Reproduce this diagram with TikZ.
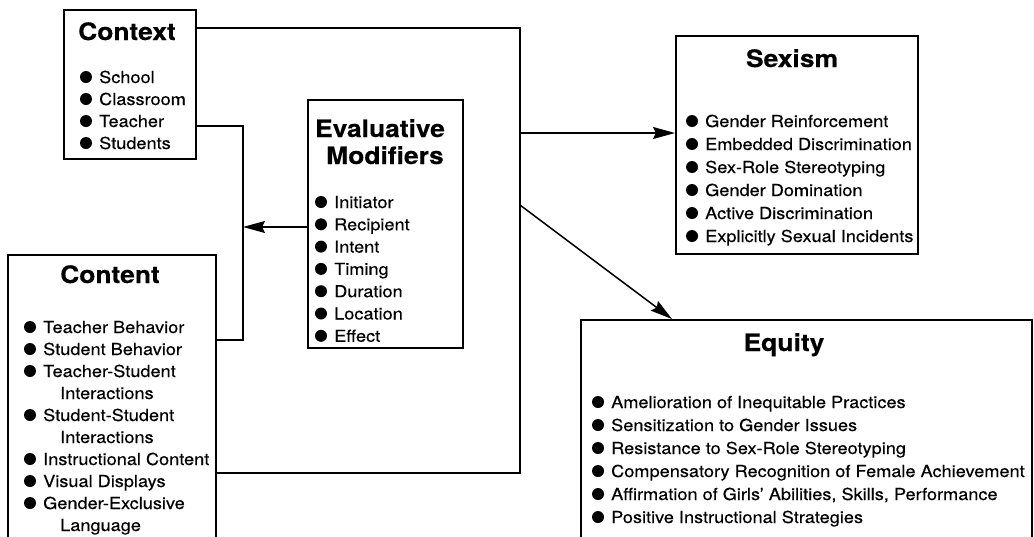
\documentclass[tikz,border=0pt]{standalone}
\usepackage{fontspec}
\setmainfont{TeX Gyre Heros}[FakeStretch=1.1,FakeBold=0.3]
\usetikzlibrary{arrows.meta}
\newcommand\bitem[4]{%
  \node[itm] (#1) at (#2,#3) {#4};
  \fill (#1.base west) ++(-13,-6) circle (6pt);
}
\begin{document}
\begin{tikzpicture}[x=1pt,y=-1pt,
  box/.style={draw, line width=1.9pt, rectangle, inner sep=0pt, anchor=north west},
  title/.style={font=\fontsize{24}{28}\selectfont\bfseries, inner sep=0pt, anchor=base},
  itm/.style={font=\fontsize{16.5}{20}\selectfont, inner sep=0pt, anchor=base west},
  conn/.style={line width=1.5pt},
  arr/.style={conn, -{Stealth[length=22pt,width=12pt,inset=3pt]}},
]
\clip (0,0) rectangle (1034,536);
\fill[white] (0,0) rectangle (1034,536);

% boxes
\node[box, minimum width=132pt, minimum height=149pt] (context) at (63,9) {};
\node[box, minimum width=208pt, minimum height=300pt] (content) at (7,254) {};
\node[box, minimum width=155pt, minimum height=248pt] (eval) at (307,99) {};
\node[box, minimum width=242pt, minimum height=218pt] (sexism) at (675,35) {};
\node[box, minimum width=451pt, minimum height=240pt] (equity) at (580,319) {};

% titles
\node[title] (contextT) at (127,40) {Context};
\node[title] (evalT1) at (380,137) {Evaluative};
\node[title] (evalT2) at (385,164) {Modifiers};
\node[title] (contentT) at (110,283) {Content};
\node[title] (sexismT) at (792,67) {Sexism};
\node[title] (equityT) at (784,351) {Equity};

% context items
\bitem{c1}{99}{83}{School}
\bitem{c2}{99}{105}{Classroom}
\bitem{c3}{99}{127}{Teacher}
\bitem{c4}{99}{149}{Students}

% evaluative modifiers items
\bitem{e1}{334}{208}{Initiator}
\bitem{e2}{334}{230.3}{Recipient}
\bitem{e3}{334}{252.6}{Intent}
\bitem{e4}{334}{274.9}{Timing}
\bitem{e5}{334}{297.2}{Duration}
\bitem{e6}{334}{319.5}{Location}
\bitem{e7}{334}{341.8}{Effect}

% content items
\bitem{n1}{43}{333}{Teacher Behavior}
\bitem{n2}{43}{355}{Student Behavior}
\bitem{n3}{43}{377}{Teacher-Student}
\node[itm] (n3b) at (60,399) {Interactions};
\bitem{n4}{43}{421}{Student-Student}
\node[itm] (n4b) at (60,443) {Interactions};
\bitem{n5}{43}{465}{Instructional Content}
\bitem{n6}{43}{487}{Visual Displays}
\bitem{n7}{43}{509}{Gender-Exclusive}
\node[itm] (n7b) at (60,531) {Language};

% sexism items
\bitem{s1}{705}{127}{Gender Reinforcement}
\bitem{s2}{705}{150}{Embedded Discrimination}
\bitem{s3}{705}{173}{Sex-Role Stereotyping}
\bitem{s4}{705}{196}{Gender Domination}
\bitem{s5}{705}{219}{Active Discrimination}
\bitem{s6}{705}{242}{Explicitly Sexual Incidents}

% equity items
\bitem{q1}{611}{408}{Amelioration of Inequitable Practices}
\bitem{q2}{611}{431}{Sensitization to Gender Issues}
\bitem{q3}{611}{454}{Resistance to Sex-Role Stereotyping}
\bitem{q4}{611}{477}{Compensatory Recognition of Female Achievement}
\bitem{q5}{611}{500}{Affirmation of Girls' Abilities, Skills, Performance}
\bitem{q6}{611}{523}{Positive Instructional Strategies}

% connectors
\coordinate (tr) at (520,28);
\coordinate (br) at (520,473);
\draw[conn] (context.east |- tr) -- (tr) -- (br) -- (content.east |- br);
\coordinate (t1) at (243,126);
\coordinate (t2) at (243,340);
\draw[conn] (context.east |- t1) -- (t1) -- (t2) -- (content.east |- t2);
\coordinate (am) at (243,227);
\draw[arr] (eval.west |- am) -- (am);
\coordinate (sx) at (520,133);
\draw[arr] (sx) -- (sexism.west |- sx);
\coordinate (dg) at (520,205);
\coordinate (eq) at (672,319);
\draw[arr] (dg) -- (eq);
\end{tikzpicture}
\end{document}
